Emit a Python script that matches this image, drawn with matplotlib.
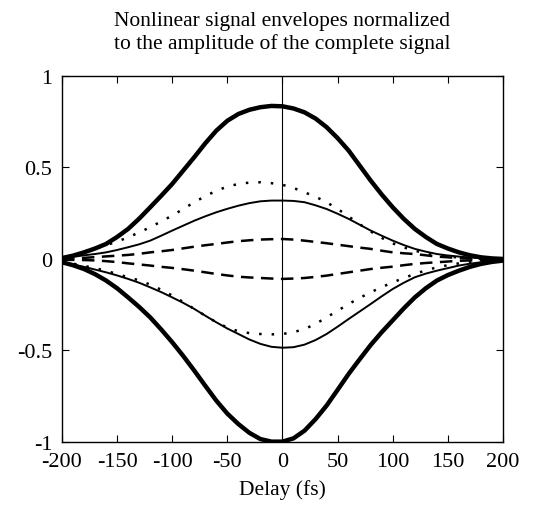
import matplotlib
matplotlib.use('Agg')
import matplotlib.pyplot as plt
import numpy as np

plt.rcParams['font.family'] = ['Liberation Serif', 'DejaVu Serif']

# delay axis (fs), values every 10 fs
delay = np.arange(-200, 201, 10)

thick_top = [0.005, 0.018, 0.036, 0.057, 0.082, 0.12, 0.164, 0.22, 0.282, 0.345,
             0.41, 0.483, 0.556, 0.632, 0.701, 0.755, 0.792, 0.815, 0.829, 0.836,
             0.834, 0.822, 0.801, 0.767, 0.72, 0.66, 0.592, 0.51, 0.428, 0.352,
             0.282, 0.219, 0.164, 0.12, 0.082, 0.057, 0.036, 0.02, 0.009, 0.003, 0.0]
thick_bot = [-0.018, -0.034, -0.055, -0.083, -0.118, -0.16, -0.21, -0.262, -0.319, -0.385,
             -0.455, -0.53, -0.61, -0.693, -0.774, -0.845, -0.902, -0.95, -0.984, -0.998,
             -0.998, -0.98, -0.938, -0.875, -0.801, -0.715, -0.628, -0.548, -0.47, -0.4,
             -0.335, -0.27, -0.21, -0.16, -0.118, -0.088, -0.064, -0.043, -0.027, -0.016, -0.009]
thin_top = [0.003, 0.011, 0.02, 0.027, 0.036, 0.049, 0.064, 0.08, 0.1, 0.127,
            0.155, 0.182, 0.209, 0.233, 0.255, 0.274, 0.291, 0.305, 0.315, 0.319,
            0.319, 0.317, 0.31, 0.293, 0.273, 0.247, 0.219, 0.187, 0.155, 0.127,
            0.1, 0.076, 0.055, 0.04, 0.027, 0.019, 0.013, 0.008, 0.004, 0.001, -0.002]
thin_bot = [-0.015, -0.03, -0.043, -0.058, -0.073, -0.09, -0.109, -0.13, -0.155, -0.181,
            -0.21, -0.24, -0.273, -0.31, -0.346, -0.38, -0.41, -0.44, -0.464, -0.48,
            -0.485, -0.482, -0.468, -0.443, -0.41, -0.37, -0.328, -0.287, -0.246, -0.204,
            -0.164, -0.13, -0.1, -0.08, -0.064, -0.05, -0.036, -0.026, -0.018, -0.013, -0.009]
dot_top = [0.003, 0.018, 0.04, 0.056, 0.075, 0.095, 0.118, 0.145, 0.173, 0.205,
           0.237, 0.273, 0.31, 0.343, 0.373, 0.395, 0.41, 0.417, 0.419, 0.414,
           0.405, 0.388, 0.364, 0.34, 0.31, 0.273, 0.232, 0.19, 0.15, 0.115,
           0.085, 0.063, 0.045, 0.031, 0.02, 0.013, 0.008, 0.004, 0.002, 0.0, -0.002]
dot_bot = [-0.01, -0.025, -0.038, -0.05, -0.065, -0.082, -0.1, -0.117, -0.14, -0.168,
           -0.2, -0.235, -0.273, -0.31, -0.346, -0.375, -0.395, -0.405, -0.41, -0.412,
           -0.41, -0.4, -0.383, -0.355, -0.319, -0.283, -0.246, -0.213, -0.182, -0.154,
           -0.128, -0.104, -0.082, -0.062, -0.046, -0.034, -0.024, -0.016, -0.01, -0.006, -0.004]
dash_top = [0.0, 0.003, 0.006, 0.01, 0.014, 0.018, 0.022, 0.028, 0.036, 0.042,
            0.049, 0.058, 0.067, 0.075, 0.082, 0.09, 0.097, 0.102, 0.106, 0.108,
            0.109, 0.106, 0.1, 0.093, 0.086, 0.078, 0.07, 0.062, 0.055, 0.045,
            0.036, 0.031, 0.027, 0.02, 0.013, 0.009, 0.005, 0.003, 0.001, 0.0, -0.002]
dash_bot = [-0.005, -0.005, -0.006, -0.008, -0.012, -0.017, -0.024, -0.03, -0.036, -0.043,
            -0.049, -0.056, -0.064, -0.073, -0.082, -0.09, -0.097, -0.101, -0.104, -0.107,
            -0.109, -0.107, -0.104, -0.098, -0.091, -0.082, -0.073, -0.064, -0.055, -0.048,
            -0.042, -0.034, -0.027, -0.022, -0.018, -0.014, -0.01, -0.008, -0.006, -0.005, -0.005]

xticks = [-200, -150, -100, -50, 0, 50, 100, 150, 200]
yticks = [-1, -0.5, 0, 0.5, 1]
ylabels = ['-1', '-0.5', '0', '0.5', '1']

fig = plt.figure(figsize=(5.34, 5.06), dpi=100)
ax = fig.add_axes([0.116, 0.1245, 0.826, 0.7235])

ax.plot(delay, thick_top, color='black', lw=3.2)
ax.plot(delay, thick_bot, color='black', lw=3.2)
ax.plot(delay, thin_top, color='black', lw=1.4)
ax.plot(delay, thin_bot, color='black', lw=1.4)
ax.plot(delay, dot_top, color='black', lw=1.8, dashes=(1, 4))
ax.plot(delay, dot_bot, color='black', lw=1.8, dashes=(1, 4))
ax.plot(delay, dash_top, color='black', lw=1.8, dashes=(5, 3))
ax.plot(delay, dash_bot, color='black', lw=1.8, dashes=(5, 3))

ax.axvline(0, color='black', lw=0.8)

ax.set_xlim(-200, 200)
ax.set_ylim(-1, 1)
ax.set_xticks(xticks)
ax.set_xticklabels([str(t) for t in xticks])
ax.set_yticks(yticks)
ax.set_yticklabels(ylabels)
ax.tick_params(direction='in', top=True, right=True, length=5, labelsize=16, pad=7)
for s in ax.spines.values():
    s.set_linewidth(1.0)

ax.set_xlabel('Delay (fs)', fontsize=15.5, labelpad=6)
ax.set_title('Nonlinear signal envelopes normalized\nto the amplitude of the complete signal',
             fontsize=15.5, pad=20, linespacing=1.25)

fig.savefig('out.png', dpi=100)
